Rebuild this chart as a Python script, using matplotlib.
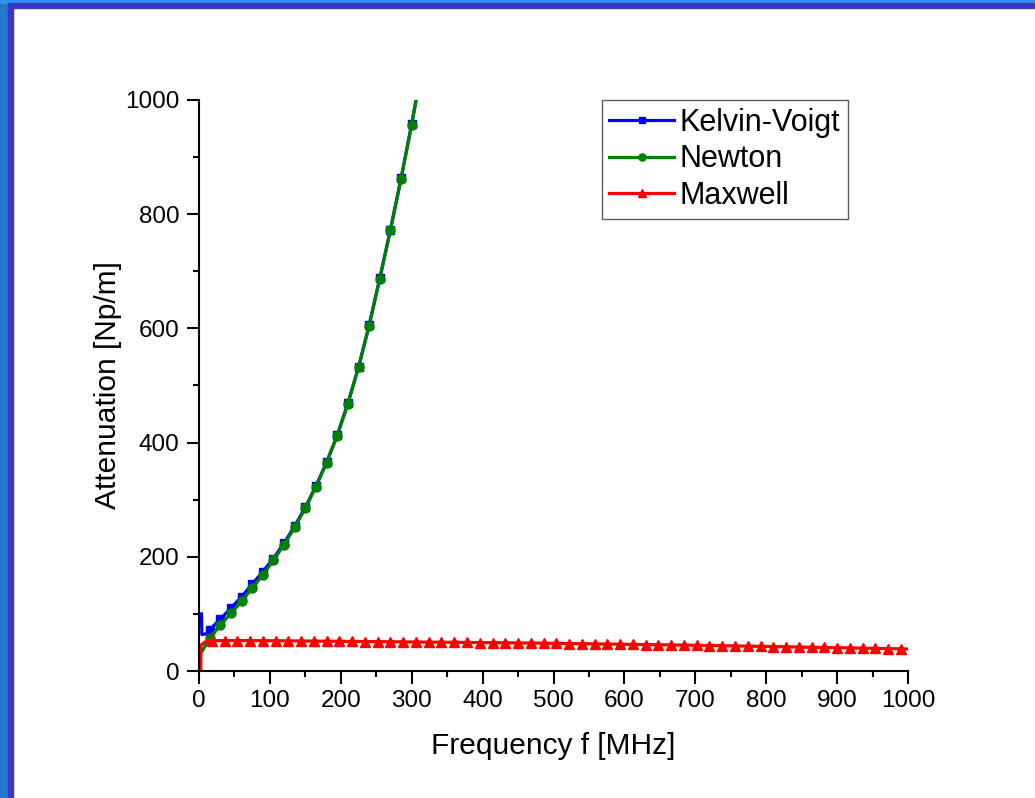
"""
Attenuation vs frequency for three viscoelastic models
"""
import matplotlib.pyplot as plt
from matplotlib.patches import Rectangle
from matplotlib.ticker import MultipleLocator

plt.rcParams['font.family'] = ['Liberation Sans', 'DejaVu Sans']

# Kelvin-Voigt model [MHz], [Np/m]
kv_freq = [3.5, 4, 10, 15, 30, 45, 60, 75, 90, 105, 120, 135, 150, 165, 180,
           195, 210, 225, 240, 255, 270, 285, 300, 315]
kv_att = [100, 64, 65, 72, 91, 110, 130, 152, 174, 197, 224, 254, 287, 324,
          366, 413, 469, 532, 606, 688, 773, 863, 958, 1062]

# Newton model
nw_freq = [4, 15, 30, 45, 60, 75, 90, 105, 120, 135, 150, 165, 180, 195, 210,
           225, 240, 255, 270, 285, 300, 315]
nw_att = [34, 57, 80, 101, 122, 145, 168, 194, 221, 252, 285, 323, 365, 412,
          468, 532, 605, 687, 772, 862, 957, 1060]

# Maxwell model
mx_freq = [2.5, 2.5, 9, 18, 36, 54, 72, 90, 108, 126, 144, 162, 180, 198, 216,
           234, 252, 270, 288, 306, 324, 342, 360, 378, 396, 414, 432, 450,
           468, 486, 504, 522, 540, 558, 576, 594, 612, 630, 648, 666, 684,
           702, 720, 738, 756, 774, 792, 810, 828, 846, 864, 882, 900, 918,
           936, 954, 972, 990, 1000]
mx_att = [0, 45, 51, 53.0, 53.3, 53.3, 53.2, 53.1, 53.0, 52.8, 52.6, 52.4,
          52.2, 52.0, 51.8, 51.6, 51.4, 51.2, 51.0, 50.8, 50.6, 50.4, 50.2,
          50.0, 49.8, 49.6, 49.4, 49.2, 49.0, 48.7, 48.4, 48.1, 47.8, 47.5,
          47.2, 46.9, 46.6, 46.3, 46.0, 45.7, 45.3, 45.0, 44.6, 44.3, 43.9,
          43.5, 43.2, 42.8, 42.4, 42.0, 41.6, 41.2, 40.8, 40.4, 40.0, 39.6,
          39.2, 38.8, 38.6]

fig = plt.figure(figsize=(10.35, 7.98), dpi=100)

# slide frame
fig.patches.append(Rectangle((0, 0), 8 / 1035, 1, transform=fig.transFigure,
                             color='#2478cc', zorder=0))
fig.patches.append(Rectangle((8 / 1035, 0), 5 / 1035, 1,
                             transform=fig.transFigure, color='#3a36c8',
                             zorder=0))
fig.patches.append(Rectangle((0, 1 - 3 / 798), 1, 3 / 798,
                             transform=fig.transFigure, color='#3090f0',
                             zorder=0))
fig.patches.append(Rectangle((8 / 1035, 1 - 8 / 798), 1, 5 / 798,
                             transform=fig.transFigure, color='#3a36c8',
                             zorder=0))

ax = fig.add_axes([199 / 1035, 1 - 671 / 798, 709 / 1035, 571 / 798])

lw = 2.3
ax.plot(kv_freq, kv_att, color='#0000ff', lw=lw, marker='s', ms=5.5,
        markevery=list(range(3, len(kv_freq))), label='Kelvin-Voigt')
ax.plot(nw_freq, nw_att, color='#008000', lw=lw, marker='o', ms=6.5,
        markevery=list(range(1, len(nw_freq))), label='Newton')
ax.plot(mx_freq, mx_att, color='#ff0000', lw=lw, marker='^', ms=7,
        markevery=list(range(3, len(mx_freq) - 1)), label='Maxwell')

ax.set_xlim(0, 1000)
ax.set_ylim(0, 1000)
ax.xaxis.set_major_locator(MultipleLocator(100))
ax.xaxis.set_minor_locator(MultipleLocator(50))
ax.yaxis.set_major_locator(MultipleLocator(200))
ax.yaxis.set_minor_locator(MultipleLocator(100))

for side in ('top', 'right'):
    ax.spines[side].set_visible(False)
for side in ('left', 'bottom'):
    ax.spines[side].set_linewidth(1.5)

ax.tick_params(which='major', direction='out', length=9, width=1.5,
               labelsize=17.5, pad=5)
ax.tick_params(which='minor', direction='out', length=4.5, width=1.5)

ax.set_xlabel('Frequency f [MHz]', fontsize=21.5, labelpad=14)
ax.set_ylabel('Attenuation [Np/m]', fontsize=21.5, labelpad=2)

leg = ax.legend(loc='upper right', bbox_to_anchor=(848 / 709 - 199 / 709, 1.0),
                fontsize=22, frameon=True, fancybox=False, borderpad=0.25,
                handlelength=2.1, handletextpad=0.2, labelspacing=0.22,
                borderaxespad=0, markerscale=0.8)
leg.get_frame().set_edgecolor('#333333')
leg.get_frame().set_linewidth(1.0)

fig.savefig('out.png', dpi=100)
